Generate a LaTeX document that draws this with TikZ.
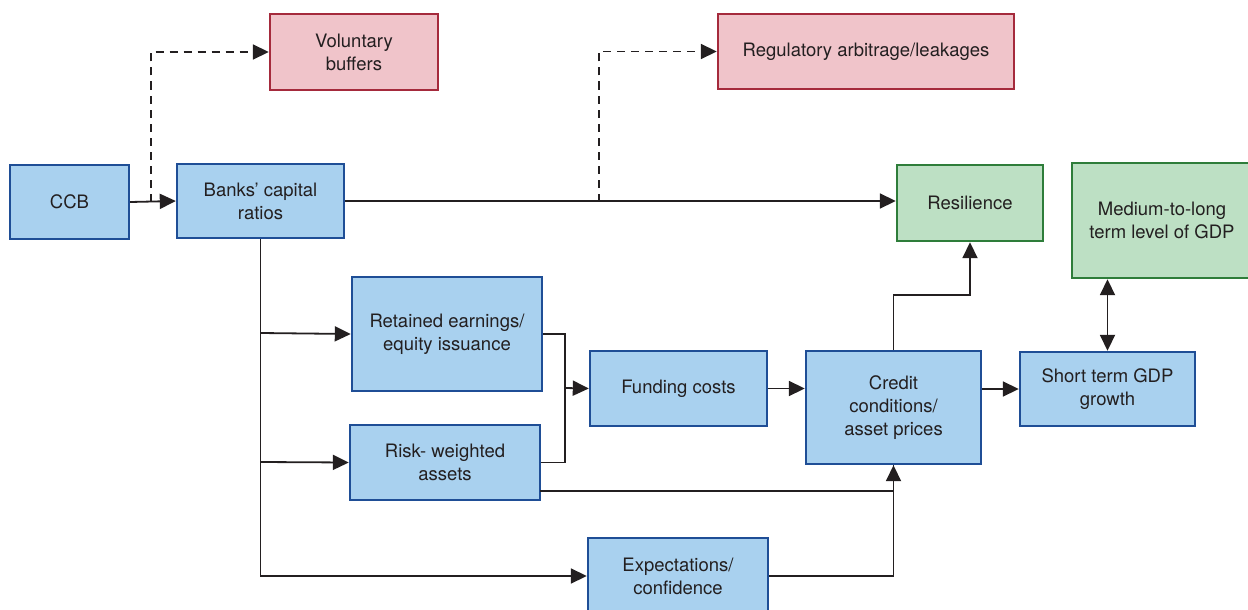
\documentclass[tikz,border=0pt]{standalone}
\usepackage{fontspec}
\setmainfont{TeX Gyre Heros}
\usetikzlibrary{arrows.meta}
\definecolor{bfill}{HTML}{A9D1EF}
\definecolor{bdraw}{HTML}{1F4E96}
\definecolor{pfill}{HTML}{F0C4CA}
\definecolor{pdraw}{HTML}{A52A3C}
\definecolor{gfill}{HTML}{BDE0C4}
\definecolor{gdraw}{HTML}{2E7D3A}
\definecolor{ink}{HTML}{231F20}
\begin{document}
\begin{tikzpicture}[x=1pt,y=-1pt,
  box/.style={rectangle, line width=2.4pt, align=center, inner sep=0pt, text=ink,
    font=\fontsize{18.5}{23}\selectfont},
  bluebox/.style={box, fill=bfill, draw=bdraw},
  pinkbox/.style={box, fill=pfill, draw=pdraw},
  greenbox/.style={box, fill=gfill, draw=gdraw},
  conn/.style={line width=1.8pt, draw=ink},
  arr/.style={conn, -{Triangle[length=16pt,width=15pt]}},
  dasharr/.style={arr, dash pattern=on 8pt off 6pt},
  twoarr/.style={conn, {Triangle[length=16pt,width=15pt]}-{Triangle[length=16pt,width=15pt]}}
]
\useasboundingbox (0,0) rectangle (1248,610);
\clip (0,0) rectangle (1248,610);
\fill[white] (0,0) rectangle (1248,610);

\node[bluebox, minimum width=119pt, minimum height=74pt] (ccb) at (69.5,202) {CCB};
\node[bluebox, minimum width=167pt, minimum height=74pt] (banks) at (260.5,201) {Banks’ capital\\ratios};
\node[pinkbox, minimum width=168pt, minimum height=76pt] (vol) at (354,52) {Voluntary\\buffers};
\node[pinkbox, minimum width=296pt, minimum height=75pt] (reg) at (866,51.5) {Regulatory arbitrage/leakages};
\node[greenbox, minimum width=146pt, minimum height=76pt] (res) at (970,203) {Resilience};
\node[greenbox, minimum width=180pt, minimum height=115pt] (med) at (1162,220.5) {Medium-to-long\\term level of GDP};
\node[bluebox, minimum width=190pt, minimum height=114pt] (ret) at (447,334) {Retained earnings/\\equity issuance};
\node[bluebox, minimum width=190pt, minimum height=75pt] (risk) at (445,462.5) {Risk- weighted\\assets};
\node[bluebox, minimum width=177pt, minimum height=75pt] (fund) at (678.5,388.5) {Funding costs};
\node[bluebox, minimum width=175pt, minimum height=113pt] (cred) at (893.5,407.5) {Credit\\conditions/\\asset prices};
\node[bluebox, minimum width=175pt, minimum height=74pt] (short) at (1107.5,389) {Short term GDP\\growth};
\node[bluebox, minimum width=180pt, minimum height=76pt] (exp) at (678,576) {Expectations/\\confidence};

\coordinate (d1) at (151,201.5);
\coordinate (d2) at (599,201.5);
\coordinate (b1) at (260.5,333);
\coordinate (b2) at (260.5,462);
\coordinate (j) at (565,388);
\coordinate (r1) at (540,491);

\draw[arr] (ccb.east) -- (banks.west);
\draw[dasharr] (d1) |- (vol.west);
\draw[arr] (banks.east) -- (banks.east -| res.west);
\draw[dasharr] (d2) |- (reg.west);
\draw[arr] (banks.south) |- (exp.west);
\draw[arr] (b1) -- (ret.west);
\draw[arr] (b2) -- (risk.west);
\draw[conn] (ret.east) -| (j);
\draw[conn] (risk.east) -| (j);
\draw[arr] (j) -- (fund.west);
\draw[conn] (exp.east) -| (cred.south);
\draw[arr] (r1) -| (cred.south);
\draw[arr] (fund.east) -- (fund.east -| cred.west);
\draw[arr] (short.west -| cred.east) -- (short.west);
\draw[arr] (cred.north) -- ++(0,-55) -| (res.south);
\draw[twoarr] (short.north) -- (short.north |- med.south);
\end{tikzpicture}
\end{document}
